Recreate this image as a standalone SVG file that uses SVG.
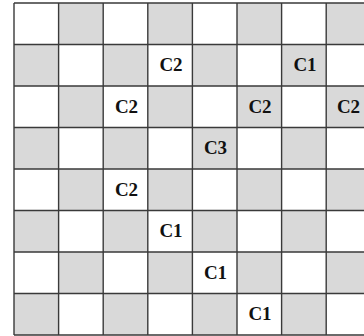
<svg xmlns="http://www.w3.org/2000/svg" width="364" height="336" viewBox="0 0 364 336">
<style>
.g{fill:#d9d9d9}
.ln{stroke:#3a3a3a;stroke-width:1.4;fill:none}
.t{font-family:"Liberation Serif","Times New Roman",serif;font-weight:bold;font-size:19px;fill:#111;text-anchor:middle}
</style>
<rect width="364" height="336" fill="#ffffff"/>
<g id="cells">
<rect class="g" x="58.6" y="3" width="44.6" height="41.5"/>
<rect class="g" x="147.8" y="3" width="44.6" height="41.5"/>
<rect class="g" x="237" y="3" width="44.6" height="41.5"/>
<rect class="g" x="326.2" y="3" width="44.6" height="41.5"/>
<rect class="g" x="14" y="44.5" width="44.6" height="41.5"/>
<rect class="g" x="103.2" y="44.5" width="44.6" height="41.5"/>
<rect class="g" x="192.4" y="44.5" width="44.6" height="41.5"/>
<rect class="g" x="281.6" y="44.5" width="44.6" height="41.5"/>
<rect class="g" x="58.6" y="86" width="44.6" height="41.5"/>
<rect class="g" x="147.8" y="86" width="44.6" height="41.5"/>
<rect class="g" x="237" y="86" width="44.6" height="41.5"/>
<rect class="g" x="326.2" y="86" width="44.6" height="41.5"/>
<rect class="g" x="14" y="127.5" width="44.6" height="41.5"/>
<rect class="g" x="103.2" y="127.5" width="44.6" height="41.5"/>
<rect class="g" x="192.4" y="127.5" width="44.6" height="41.5"/>
<rect class="g" x="281.6" y="127.5" width="44.6" height="41.5"/>
<rect class="g" x="58.6" y="169" width="44.6" height="41.5"/>
<rect class="g" x="147.8" y="169" width="44.6" height="41.5"/>
<rect class="g" x="237" y="169" width="44.6" height="41.5"/>
<rect class="g" x="326.2" y="169" width="44.6" height="41.5"/>
<rect class="g" x="14" y="210.5" width="44.6" height="41.5"/>
<rect class="g" x="103.2" y="210.5" width="44.6" height="41.5"/>
<rect class="g" x="192.4" y="210.5" width="44.6" height="41.5"/>
<rect class="g" x="281.6" y="210.5" width="44.6" height="41.5"/>
<rect class="g" x="58.6" y="252" width="44.6" height="41.5"/>
<rect class="g" x="147.8" y="252" width="44.6" height="41.5"/>
<rect class="g" x="237" y="252" width="44.6" height="41.5"/>
<rect class="g" x="326.2" y="252" width="44.6" height="41.5"/>
<rect class="g" x="14" y="293.5" width="44.6" height="41.5"/>
<rect class="g" x="103.2" y="293.5" width="44.6" height="41.5"/>
<rect class="g" x="192.4" y="293.5" width="44.6" height="41.5"/>
<rect class="g" x="281.6" y="293.5" width="44.6" height="41.5"/>
</g>
<g id="grid">
<path class="ln" d="M14 3V335M58.6 3V335M103.2 3V335M147.8 3V335M192.4 3V335M237 3V335M281.6 3V335M326.2 3V335"/>
<path class="ln" d="M14 3H364M14 44.5H364M14 86H364M14 127.5H364M14 169H364M14 210.5H364M14 252H364M14 293.5H364M14 335H364"/>
</g>
<g id="labels">
<text class="t" x="171" y="71">C2</text>
<text class="t" x="305" y="71">C1</text>
<text class="t" x="126.5" y="112.5">C2</text>
<text class="t" x="260" y="112.5">C2</text>
<text class="t" x="348.5" y="112.5">C2</text>
<text class="t" x="215.5" y="154">C3</text>
<text class="t" x="126.5" y="195.5">C2</text>
<text class="t" x="171" y="237">C1</text>
<text class="t" x="215.5" y="278.5">C1</text>
<text class="t" x="260" y="320">C1</text>
</g>
</svg>
